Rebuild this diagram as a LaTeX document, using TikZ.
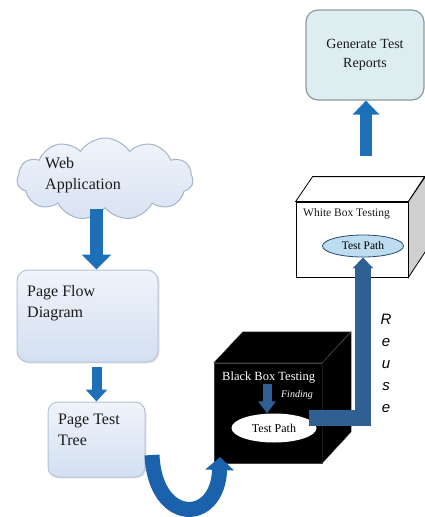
\documentclass[tikz,border=0pt]{standalone}
\usepackage{fontspec}
\setmainfont{Liberation Serif}
\setsansfont{Liberation Sans}
\usepackage{xcolor}
\usepackage{tikz}
\usetikzlibrary{arrows.meta,positioning,calc,shapes.geometric,shapes.symbols,shadows}
\definecolor{ink}{HTML}{1A1A1A}
\definecolor{arrowblue}{HTML}{1D6FB8}
\definecolor{ublue}{HTML}{1A63AC}
\definecolor{reuseblue}{HTML}{2F5F93}
\definecolor{boxline}{HTML}{B4C2D6}
\definecolor{boxtop}{HTML}{F0F4FB}
\definecolor{boxbottom}{HTML}{D3DFF1}
\definecolor{cloudline}{HTML}{A6B3C8}
\definecolor{reportfill}{HTML}{DDEDF0}
\definecolor{reportline}{HTML}{8D9B9E}
\definecolor{pathblue}{HTML}{BEDCF0}
\definecolor{sidegray}{HTML}{CFCFCF}
\tikzset{
  softbox/.style={
    rectangle,rounded corners=11pt,draw=boxline,line width=1pt,
    top color=boxtop,bottom color=boxbottom,
    drop shadow={opacity=0.18,shadow xshift=1.5pt,shadow yshift=-1.5pt}
  },
  boxtext/.style={anchor=north west,inner sep=0pt,align=left,text=ink,
    font=\fontsize{16}{21}\selectfont},
  bigarrow/.style={line width=13pt,draw=arrowblue,-{Triangle[length=15pt,width=29pt]}},
  midarrow/.style={line width=10pt,draw=arrowblue,-{Triangle[length=12pt,width=21pt]}},
  findarrow/.style={line width=9pt,draw=reuseblue,-{Triangle[length=12pt,width=17pt]}},
  reusebar/.style={line width=16pt,draw=reuseblue,line join=miter,
    -{Triangle[length=11pt,width=20pt]}},
  uarrow/.style={line width=15pt,draw=ublue,-{Triangle[length=13pt,width=28pt]}},
  pathell/.style={ellipse,inner sep=0pt,font=\fontsize{12}{14}\selectfont}
}

\begin{document}
\begin{tikzpicture}[x=1pt,y=-1pt]
  \useasboundingbox (0,0) rectangle (424,517);
  % left column
  \node[cloud,cloud puffs=11,cloud puff arc=115,aspect=2.1,
        minimum width=176pt,minimum height=82pt,inner sep=0pt,
        draw=cloudline,line width=1pt,top color=boxtop,bottom color=boxbottom!90]
        (cloud) at (105,179) {};
  \node[boxtext] (webtext) at (45,157) {Web\\Application};
  \node[softbox,minimum width=141pt,minimum height=92pt] (flow) at (87.5,316) {};
  \node[boxtext] (flowtext) at (27,285) {Page Flow\\Diagram};
  \node[softbox,rounded corners=10pt,minimum width=97pt,minimum height=75pt] (tree) at (96.5,439.5) {};
  \node[boxtext] (treetext) at (58,414) {Page Test\\Tree};
  \draw[bigarrow] (cloud.south -| tree.north) -- (flow.north -| tree.north);
  \draw[midarrow,shorten <=4pt] (flow.south -| tree.north) -- (tree.north);
  % black box
  \node[rectangle,fill=black,draw=black!75,minimum width=108pt,minimum height=100pt] (bbox) at (268,413) {};
  \filldraw[fill=black,draw=black!70] (bbox.north west) -- ++(29,-31) -- ++(108,0) -- (bbox.north east) -- cycle;
  \filldraw[fill=black,draw=black!70] (bbox.north east) -- ++(29,-31) -- ++(0,100) -- (bbox.south east) -- cycle;
  \node[anchor=north west,inner sep=0pt,text=white,font=\fontsize{12.5}{14}\selectfont] (bbtitle) at (222,372) {Black Box Testing};
  \node[anchor=north east,inner sep=0pt,text=white,font=\fontsize{10}{11}\selectfont\itshape] (finding) at (313,390) {Finding};
  \node[pathell,fill=white,minimum width=85pt,minimum height=29pt] (bpath) at (274,428) {Test Path};
  \coordinate (fdrop) at ([xshift=-7pt]bpath.north);
  \draw[findarrow] (fdrop |- bbtitle.south) -- (fdrop);
  % white box
  \node[rectangle,fill=white,draw=black,line width=0.8pt,minimum width=112pt,minimum height=75pt] (wbox) at (352,239.5) {};
  \filldraw[fill=white,draw=black,line width=0.8pt] (wbox.north west) -- ++(17,-25) -- ++(112,0) -- (wbox.north east) -- cycle;
  \filldraw[fill=sidegray,draw=black,line width=0.8pt] (wbox.north east) -- ++(17,-25) -- ++(0,75) -- (wbox.south east) -- cycle;
  \node[anchor=north west,inner sep=0pt,text=ink,font=\fontsize{11.5}{13}\selectfont] (wbtitle) at (303,208) {White Box Testing};
  \node[pathell,fill=pathblue,draw=reuseblue!80!black,line width=0.8pt,
        minimum width=81pt,minimum height=22pt,font=\fontsize{11.5}{13}\selectfont] (wpath) at (363,246) {Test Path};
  % reuse connector
  \draw[reusebar] ([xshift=-8pt,yshift=10pt]bpath.east) -| (wpath.south);
  \node[align=center,inner sep=0pt,font=\fontsize{15}{22}\selectfont\sffamily\itshape] (reuse) at (386,363) {R\\e\\u\\s\\e};
  % U-turn into the black box
  \coordinate (ustart) at (152,455);
  \coordinate (uend) at (220,457);
  \draw[uarrow] (ustart) .. controls (155,525) and (218,525) .. (uend);
  % report
  \node[rectangle,rounded corners=12pt,draw=reportline,line width=1.2pt,fill=reportfill,
        minimum width=118pt,minimum height=90pt,align=center,text=ink,
        font=\fontsize{14}{19}\selectfont] (report) at (365,55) {Generate Test\\Reports};
  \coordinate (rstart) at (366,156);
  \draw[line width=12pt,draw=arrowblue,-{Triangle[length=14pt,width=26pt]}] (rstart) -- (rstart |- report.south);
\end{tikzpicture}
\end{document}
